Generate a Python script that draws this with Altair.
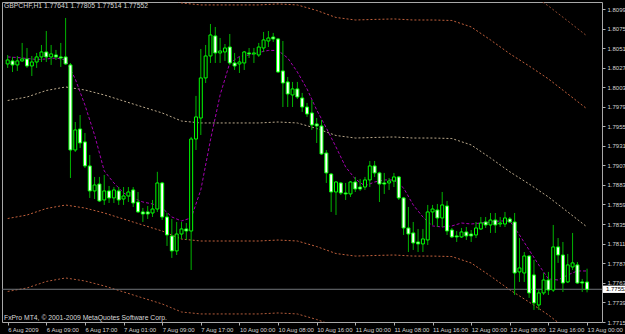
import altair as alt
import pandas as pd

FONT = "Liberation Sans, Arial"
FS = 6
FS_TEXT = 6.8

header_text = "GBPCHF,H1  1.77641 1.77805 1.77514 1.77552"
footer_text = "FxPro MT4, \u00a9 2001-2009 MetaQuotes Software Corp."

x_labels = ["6 Aug 2009", "6 Aug 09:00", "6 Aug 17:00", "7 Aug 01:00", "7 Aug 09:00",
            "7 Aug 17:00", "10 Aug 00:00", "10 Aug 08:00", "10 Aug 16:00", "11 Aug 00:00",
            "11 Aug 08:00", "11 Aug 16:00", "12 Aug 00:00", "12 Aug 08:00", "12 Aug 16:00",
            "13 Aug 00:00"]
x_label_bars = [0, 8, 16, 24, 32, 40, 48, 56, 64, 72, 80, 88, 96, 104, 112, 120]

price_ticks = [1.80995, 1.80755, 1.80515, 1.80275, 1.80035, 1.79795, 1.79555, 1.79315,
               1.79075, 1.78835, 1.78595, 1.78350, 1.78110, 1.77870, 1.77630, 1.77390, 1.77150]

opens = [1.80320, 1.80357, 1.80308, 1.80357, 1.80381, 1.80295, 1.80344, 1.80406, 1.80467, 1.80406,
         1.80430, 1.80406, 1.80406, 1.80308, 1.79263, 1.79521, 1.79362, 1.79067, 1.78760, 1.78845,
         1.78649, 1.78760, 1.78674, 1.78760, 1.78661, 1.78698, 1.78772, 1.78624, 1.78502, 1.78502,
         1.78489, 1.78538, 1.78858, 1.78440, 1.78207, 1.78023, 1.78231, 1.78293, 1.78268, 1.79398,
         1.79656, 1.80148, 1.80418, 1.80664, 1.80455, 1.80467, 1.80528, 1.80332, 1.80320, 1.80332,
         1.80455, 1.80443, 1.80430, 1.80516, 1.80602, 1.80651, 1.80627, 1.80234, 1.80099, 1.79939,
         1.80013, 1.79902, 1.79791, 1.79718, 1.79583, 1.79558, 1.79226, 1.78968, 1.78747, 1.78858,
         1.78735, 1.78723, 1.78870, 1.78808, 1.78808, 1.78895, 1.79067, 1.78981, 1.78858, 1.78858,
         1.78882, 1.78932, 1.78674, 1.78305, 1.78244, 1.78133, 1.78109, 1.78158, 1.78502, 1.78526,
         1.78428, 1.78575, 1.78280, 1.78207, 1.78195, 1.78256, 1.78231, 1.78219, 1.78293, 1.78379,
         1.78342, 1.78403, 1.78354, 1.78354, 1.78416, 1.78379, 1.77765, 1.77752, 1.77961, 1.77728,
         1.77359, 1.77507, 1.77666, 1.77543, 1.78072, 1.77973, 1.77642, 1.77826, 1.77851, 1.77642,
         1.77641]
highs = [1.80430, 1.80406, 1.80418, 1.80578, 1.80516, 1.80418, 1.80455, 1.80553, 1.80725, 1.80553,
         1.80492, 1.80578, 1.80885, 1.80332, 1.79607, 1.79693, 1.79472, 1.79202, 1.78932, 1.78932,
         1.78956, 1.78821, 1.78808, 1.78808, 1.78808, 1.78808, 1.78808, 1.78747, 1.78551, 1.78575,
         1.78649, 1.78995, 1.78870, 1.78489, 1.78416, 1.78379, 1.78379, 1.78366, 1.79423, 1.79927,
         1.80504, 1.80553, 1.80811, 1.80774, 1.80639, 1.80565, 1.80688, 1.80455, 1.80406, 1.80479,
         1.80516, 1.80516, 1.80578, 1.80713, 1.80725, 1.80701, 1.80639, 1.80602, 1.80160, 1.80099,
         1.80099, 1.79964, 1.79841, 1.79877, 1.79656, 1.79632, 1.79263, 1.78981, 1.78882, 1.78870,
         1.78858, 1.78882, 1.78932, 1.78907, 1.78932, 1.79128, 1.79128, 1.78995, 1.78981, 1.78919,
         1.78981, 1.78944, 1.78686, 1.78563, 1.78379, 1.78293, 1.78293, 1.78588, 1.78588, 1.78600,
         1.78747, 1.78637, 1.78305, 1.78268, 1.78305, 1.78317, 1.78280, 1.78379, 1.78440, 1.78440,
         1.78489, 1.78489, 1.78440, 1.78502, 1.78440, 1.78489, 1.78182, 1.78010, 1.77973, 1.77912,
         1.77543, 1.77752, 1.77765, 1.78342, 1.78182, 1.78133, 1.77986, 1.78244, 1.77888, 1.77679,
         1.77805]
lows = [1.80271, 1.80221, 1.80234, 1.80344, 1.80271, 1.80172, 1.80271, 1.80344, 1.80344, 1.80308,
        1.80369, 1.80283, 1.80308, 1.78919, 1.79239, 1.79288, 1.79042, 1.78674, 1.78661, 1.78624,
        1.78588, 1.78612, 1.78612, 1.78588, 1.78588, 1.78624, 1.78563, 1.78489, 1.78379, 1.78416,
        1.78440, 1.78502, 1.78403, 1.78084, 1.77937, 1.77973, 1.78170, 1.78158, 1.77789, 1.79263,
        1.79447, 1.80086, 1.80332, 1.80332, 1.80332, 1.80357, 1.80308, 1.80246, 1.80209, 1.80246,
        1.80393, 1.80332, 1.80406, 1.80467, 1.80528, 1.80590, 1.80209, 1.79791, 1.79791, 1.79791,
        1.79890, 1.79730, 1.79669, 1.79509, 1.79349, 1.79202, 1.78858, 1.78502, 1.78465, 1.78710,
        1.78649, 1.78686, 1.78747, 1.78760, 1.78772, 1.78808, 1.78932, 1.78624, 1.78723, 1.78772,
        1.78808, 1.78649, 1.78219, 1.78010, 1.78035, 1.78010, 1.78010, 1.78096, 1.78342, 1.78317,
        1.78317, 1.78219, 1.78182, 1.78133, 1.78182, 1.78158, 1.78133, 1.78182, 1.78280, 1.78305,
        1.78244, 1.78244, 1.78317, 1.78317, 1.78366, 1.77482, 1.77642, 1.77642, 1.77446, 1.77298,
        1.77298, 1.77482, 1.77482, 1.77519, 1.77876, 1.77519, 1.77629, 1.77789, 1.77617, 1.77519,
        1.77514]
closes = [1.80369, 1.80308, 1.80357, 1.80381, 1.80295, 1.80344, 1.80406, 1.80467, 1.80406, 1.80443,
          1.80406, 1.80393, 1.80320, 1.79263, 1.79509, 1.79349, 1.79067, 1.78760, 1.78833, 1.78637,
          1.78760, 1.78674, 1.78772, 1.78649, 1.78698, 1.78747, 1.78612, 1.78502, 1.78477, 1.78477,
          1.78538, 1.78858, 1.78440, 1.78219, 1.78023, 1.78231, 1.78293, 1.78268, 1.79398, 1.79669,
          1.80148, 1.80418, 1.80676, 1.80455, 1.80479, 1.80516, 1.80332, 1.80295, 1.80344, 1.80467,
          1.80443, 1.80455, 1.80528, 1.80615, 1.80639, 1.80627, 1.80221, 1.80086, 1.79951, 1.80013,
          1.79914, 1.79791, 1.79705, 1.79570, 1.79558, 1.79214, 1.78981, 1.78747, 1.78870, 1.78735,
          1.78723, 1.78870, 1.78784, 1.78784, 1.78895, 1.79067, 1.78981, 1.78845, 1.78845, 1.78882,
          1.78932, 1.78674, 1.78305, 1.78231, 1.78121, 1.78109, 1.78170, 1.78502, 1.78538, 1.78428,
          1.78588, 1.78268, 1.78195, 1.78195, 1.78256, 1.78207, 1.78207, 1.78305, 1.78366, 1.78342,
          1.78403, 1.78342, 1.78366, 1.78428, 1.78379, 1.77752, 1.77814, 1.77961, 1.77507, 1.77384,
          1.77507, 1.77666, 1.77543, 1.78072, 1.77973, 1.77629, 1.77851, 1.77876, 1.77629, 1.77629,
          1.77552]

# magenta moving average, read every second bar
ma_bars = list(range(0, 121, 2))
ma_values = [1.80406, 1.80399, 1.80387, 1.80375, 1.80381, 1.80393, 1.80369, 1.80135, 1.79816, 1.79447,
             1.79006, 1.78858, 1.78735, 1.78674, 1.78624, 1.78600, 1.78551, 1.78440, 1.78391, 1.78428,
             1.78772, 1.79386, 1.79939, 1.80332, 1.80412, 1.80430, 1.80461, 1.80486, 1.80486, 1.80393,
             1.80221, 1.80013, 1.79755, 1.79533, 1.79300, 1.79054, 1.78907, 1.78821, 1.78870, 1.78895,
             1.78895, 1.78796, 1.78588, 1.78440, 1.78330, 1.78317, 1.78330, 1.78366, 1.78354, 1.78366,
             1.78379, 1.78391, 1.78391, 1.78219, 1.78035, 1.77851, 1.77679, 1.77666, 1.77728, 1.77777,
             1.77777]

# dotted envelope lines, read every fourth bar
env_bars = list(range(0, 121, 4))
env_upper2 = [1.82217, 1.82260, 1.82340, 1.82383, 1.82346, 1.82285, 1.82211, 1.82137, 1.82064, 1.81965,
              1.81941, 1.81941, 1.81941, 1.81941, 1.81953, 1.81941, 1.81873, 1.81787, 1.81756, 1.81763,
              1.81769, 1.81756, 1.81756, 1.81750, 1.81671, 1.81511, 1.81341, 1.81191, 1.81032, 1.80848,
              1.80663]
env_upper1 = [1.81321, 1.81364, 1.81444, 1.81487, 1.81450, 1.81389, 1.81315, 1.81241, 1.81168, 1.81069,
              1.81045, 1.81045, 1.81045, 1.81045, 1.81057, 1.81045, 1.80977, 1.80891, 1.80860, 1.80867,
              1.80873, 1.80860, 1.80860, 1.80854, 1.80775, 1.80615, 1.80445, 1.80295, 1.80136, 1.79952,
              1.79767]
env_mid = [1.79871, 1.79914, 1.79994, 1.80037, 1.80000, 1.79939, 1.79865, 1.79791, 1.79718, 1.79619,
           1.79595, 1.79595, 1.79595, 1.79595, 1.79607, 1.79595, 1.79527, 1.79441, 1.79410, 1.79417,
           1.79423, 1.79410, 1.79410, 1.79404, 1.79325, 1.79165, 1.78995, 1.78845, 1.78686, 1.78502,
           1.78317]
env_lower1 = [1.78421, 1.78464, 1.78544, 1.78587, 1.78550, 1.78489, 1.78415, 1.78341, 1.78268, 1.78169,
              1.78145, 1.78145, 1.78145, 1.78145, 1.78157, 1.78145, 1.78077, 1.77991, 1.77960, 1.77967,
              1.77973, 1.77960, 1.77960, 1.77954, 1.77875, 1.77715, 1.77545, 1.77395, 1.77236, 1.77052,
              1.76867]
env_lower2 = [1.77525, 1.77568, 1.77648, 1.77691, 1.77654, 1.77593, 1.77519, 1.77445, 1.77372, 1.77273,
              1.77249, 1.77249, 1.77249, 1.77249, 1.77261, 1.77249, 1.77181, 1.77095, 1.77064, 1.77071,
              1.77077, 1.77064, 1.77064, 1.77058, 1.76979, 1.76819, 1.76649, 1.76499, 1.76340, 1.76156,
              1.75971]

band_names = ["upper2", "upper1", "mid", "lower1", "lower2"]
band_colors = ["#8e4a30", "#c0603c", "#bba98c", "#c0603c", "#b05a3a"]

# ---------------- tables ----------------
n = len(opens)
candles = pd.DataFrame({"bar": list(range(n)), "open": opens, "high": highs,
                        "low": lows, "close": closes})
candles["bear"] = candles["close"] <= candles["open"]

ma_df = pd.DataFrame({"bar": ma_bars, "price": ma_values})
env_df = pd.concat([
    pd.DataFrame({"bar": env_bars, "price": vals, "band": name})
    for name, vals in zip(band_names, [env_upper2, env_upper1, env_mid, env_lower1, env_lower2])
], ignore_index=True)
last_df = pd.DataFrame({"close": [closes[-1]]})

x_scale = alt.Scale(domain=[-0.14, 122.06], nice=False, zero=False)
y_scale = alt.Scale(domain=[1.77150, 1.81081], nice=False, zero=False)

label_arr = "[" + ",".join("'" + s + "'" for s in x_labels) + "]"
bar_arr = "[" + ",".join(str(b) for b in x_label_bars) + "]"

x_axis = alt.Axis(orient="bottom", values=x_label_bars,
                  labelExpr=label_arr + "[indexof(" + bar_arr + ", datum.value)]",
                  title=None, grid=False, domain=False, tickSize=3, tickColor="#b0b0b0",
                  labelColor="#d4d4d4", labelFont=FONT, labelFontSize=FS, labelAlign="left",
                  labelBaseline="top", labelPadding=1, labelOverlap=False, labelFlush=False)
y_axis = alt.Axis(orient="right", values=price_ticks, format=".5f", title=None, grid=False,
                  domain=False, tickSize=3, tickColor="#b0b0b0", labelColor="#d4d4d4",
                  labelFont=FONT, labelFontSize=FS, labelPadding=2, labelOverlap=False)

X = alt.X("bar:Q", scale=x_scale, axis=x_axis)

bands = alt.Chart(env_df).mark_line(strokeWidth=1, strokeDash=[2, 2], clip=True).encode(
    x=X,
    y=alt.Y("price:Q", scale=y_scale, axis=y_axis),
    color=alt.Color("band:N", scale=alt.Scale(domain=band_names, range=band_colors), legend=None),
    detail="band:N",
)

ma = alt.Chart(ma_df).mark_line(color="#a400b0", strokeWidth=1, strokeDash=[3, 2], clip=True).encode(
    x=X, y=alt.Y("price:Q", scale=y_scale, axis=y_axis)
)

price_line = alt.Chart(last_df).mark_rule(color="#70747a", strokeWidth=1).encode(
    y=alt.Y("close:Q", scale=y_scale, axis=y_axis)
)

wicks = alt.Chart(candles).mark_rule(color="#00b400", strokeWidth=1, clip=True).encode(
    x=X, y=alt.Y("low:Q", scale=y_scale, axis=y_axis), y2="high:Q"
)

bodies = alt.Chart(candles).mark_bar(size=3, stroke="#00ff00", strokeWidth=1, clip=True).encode(
    x=X, y=alt.Y("open:Q", scale=y_scale, axis=y_axis), y2="close:Q",
    fill=alt.condition("datum.bear", alt.value("#ffffff"), alt.value("#000000")),
)

tag_box = alt.Chart(last_df).transform_calculate(
    hi="datum.close + 0.00045", lo="datum.close - 0.00045"
).mark_rect(fill="#ffffff").encode(
    x=alt.value(601), x2=alt.value(624),
    y=alt.Y("hi:Q", scale=y_scale, axis=y_axis), y2="lo:Q",
)
tag_text = alt.Chart(last_df).mark_text(align="left", baseline="middle", font=FONT,
                                        fontSize=FS, color="#000000").encode(
    x=alt.value(604), y=alt.Y("close:Q", scale=y_scale, axis=y_axis),
    text=alt.Text("close:Q", format=".5f"),
)

header = alt.Chart(pd.DataFrame({"t": [header_text]})).mark_text(
    align="left", baseline="middle", font=FONT, fontSize=FS_TEXT, color="#d8d8d8"
).encode(x=alt.value(2), y=alt.value(4), text="t:N")

footer = alt.Chart(pd.DataFrame({"t": [footer_text]})).mark_text(
    align="left", baseline="middle", font=FONT, fontSize=FS_TEXT, color="#d8d8d8"
).encode(x=alt.value(2), y=alt.value(316), text="t:N")

chart = alt.layer(bands, ma, price_line, wicks, bodies, tag_box, tag_text, header, footer).properties(
    width=600, height=320,
    autosize=alt.AutoSizeParams(type="none"),
    padding={"left": 2, "top": 2, "right": 23, "bottom": 12},
).configure(background="#000000").configure_view(stroke="#a8a8a8", strokeWidth=1, fill="#000000")

chart.save("out.html", embed_options={"renderer": "svg", "actions": False})
